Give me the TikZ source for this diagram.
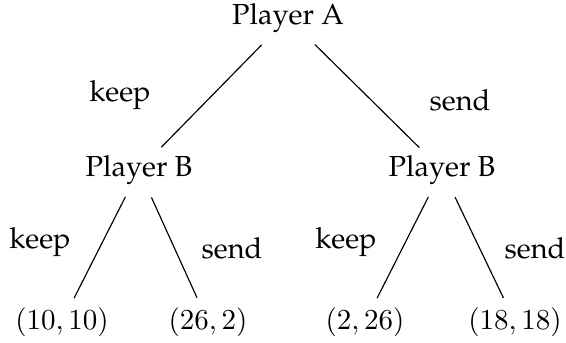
\documentclass[tikz,border=0pt]{standalone}
\usepackage[T1]{fontenc}
\renewcommand{\rmdefault}{ppl}
\begin{document}
\begin{tikzpicture}[x=0.345pt,y=-0.345pt]
\useasboundingbox (0,0) rectangle (566,343);
\tikzstyle{every node}=[inner sep=2pt];
\tikzstyle{upper}=[line width=0.4pt,shorten <=13pt,shorten >=11pt];
\tikzstyle{lower}=[line width=0.4pt,shorten <=10.4pt,shorten >=9.2pt];
\node (a) at (288,18) {Player A};
\node (bl) at (139,170) {Player B};
\node (br) at (442,170) {Player B};
\node (ll) at (62,322) {$(10,10)$};
\node (lr) at (208,322) {$(26,2)$};
\node (rl) at (365,322) {$(2,26)$};
\node (rr) at (515,322) {$(18,18)$};
\draw[upper] (a.center)--(bl.center);
\draw[upper] (a.center)--(br.center);
\draw[lower] (bl.center)--(ll.center);
\draw[lower] (bl.center)--(lr.center);
\draw[lower] (br.center)--(rl.center);
\draw[lower] (br.center)--(rr.center);
\node (k1) at (120,95) {keep};
\node (s1) at (460,100) {send};
\node (k2) at (40,242) {keep};
\node (s2) at (232,248) {send};
\node (k3) at (346,242) {keep};
\node (s3) at (535,248) {send};
\end{tikzpicture}
\end{document}
